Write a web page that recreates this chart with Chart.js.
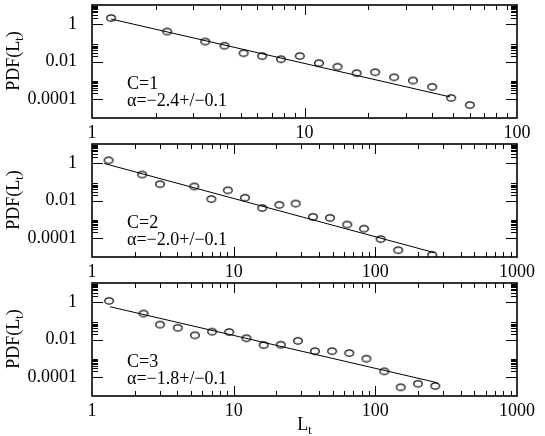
<!DOCTYPE html>
<html>
<head>
<meta charset="utf-8">
<script src="https://cdn.jsdelivr.net/npm/chart.js@4.4.0/dist/chart.umd.min.js"></script>
<style>
  body { margin: 0; background: #fff; }
  #wrap { position: relative; width: 545px; height: 436px; }
  #wrap canvas { position: absolute; left: 0; }
</style>
</head>
<body>
<div id="wrap">
  <canvas id="c1" width="545" height="139" style="top:0px"></canvas>
  <canvas id="c2" width="545" height="139" style="top:139px"></canvas>
  <canvas id="c3" width="545" height="158" style="top:278px"></canvas>
</div>
<script>
// panel labels
var panelNames = ['C=1', 'C=2', 'C=3'];
var alphaLabels = ['\u03b1=\u22122.4+/\u22120.1', '\u03b1=\u22122.0+/\u22120.1', '\u03b1=\u22121.8+/\u22120.1'];

// axis ticks
var xTicks1 = [1, 10, 100];
var xTicks23 = [1, 10, 100, 1000];
var yTicks = [1, 0.01, 0.0001];

// C=1
var lt1  = [1.23, 2.26, 3.41, 4.2, 5.17, 6.32, 7.75, 9.5, 11.7, 14.3, 17.6, 21.5, 26.4, 32.4, 39.9, 49, 60];
var pdf1 = [2.03, 0.39, 0.115, 0.069, 0.0278, 0.0195, 0.0132, 0.0195, 0.0082, 0.0053, 0.0024, 0.0027, 0.00145, 0.00098, 0.00045, 0.000117, 0.000049];
var fitX1 = [1.23, 48.4];
var fitY1 = [1.8, 0.000132];

// C=2
var lt2  = [1.31, 2.26, 3.02, 5.27, 6.96, 9.1, 12, 15.9, 21, 27.4, 36.3, 47.9, 63.3, 83.2, 109, 145, 252];
var pdf2 = [1.37, 0.24, 0.074, 0.056, 0.012, 0.035, 0.014, 0.004, 0.0059, 0.0069, 0.00136, 0.0012, 0.00053, 0.00032, 0.000089, 0.000023, 0.000013];
var fitX2 = [1.22, 261];
var fitY2 = [0.92, 0.000017];

// C=3
var lt3  = [1.32, 2.31, 3.02, 4.03, 5.33, 7.04, 9.3, 12.3, 16.3, 21.5, 28.4, 37.5, 49.5, 65.5, 86.5, 115.6, 151, 200, 265];
var pdf3 = [1.13, 0.24, 0.062, 0.042, 0.0168, 0.026, 0.025, 0.0117, 0.0051, 0.0053, 0.0085, 0.0024, 0.0024, 0.0019, 0.00096, 0.000204, 0.000029, 0.000045, 0.000034];
var fitX3 = [1.34, 273];
var fitY3 = [0.55, 0.000051];

var FONT = 'Liberation Serif';

// open elliptical marker like the original
function ringMarker() {
  var c = document.createElement('canvas');
  c.width = 12; c.height = 10;
  var g = c.getContext('2d');
  g.strokeStyle = '#000';
  g.lineWidth = 1.25;
  g.beginPath();
  g.ellipse(6, 5, 4.3, 3.2, 0, 0, 2 * Math.PI);
  g.stroke();
  return c;
}
var marker = ringMarker();

function pts(xs, ys) {
  return xs.map(function (v, i) { return { x: v, y: ys[i] }; });
}

// text with a subscript, centred on (cx, cy)
function subText(ctx, pre, sub, post, cx, cy) {
  ctx.font = '18px "' + FONT + '"';
  var w1 = ctx.measureText(pre).width;
  var w3 = ctx.measureText(post).width;
  ctx.font = '12px "' + FONT + '"';
  var w2 = ctx.measureText(sub).width;
  var x = cx - (w1 + w2 + w3) / 2;
  ctx.textBaseline = 'alphabetic';
  ctx.textAlign = 'left';
  ctx.font = '18px "' + FONT + '"';
  ctx.fillText(pre, x, cy + 6);
  ctx.font = '12px "' + FONT + '"';
  ctx.fillText(sub, x + w1, cy + 10);
  ctx.font = '18px "' + FONT + '"';
  ctx.fillText(post, x + w1 + w2, cy + 6);
}

var framePlugin = {
  id: 'frame',
  afterDraw: function (chart) {
    var ctx = chart.ctx, a = chart.chartArea;
    var xs = chart.scales.x, ys = chart.scales.y;
    var o = chart.options.plugins.frame;
    ctx.save();
    ctx.strokeStyle = '#000';
    ctx.lineWidth = 1;
    ctx.beginPath();
    // x ticks, bottom and top, pointing inward
    for (var n = 0; n < 4; n++) {
      for (var k = 1; k <= 9; k++) {
        var v = k * Math.pow(10, n);
        if (v <= xs.min || v >= xs.max) continue;
        var px = Math.round(xs.getPixelForValue(v)) + 0.5;
        var len = k === 1 ? 10 : 5;
        ctx.moveTo(px, a.bottom); ctx.lineTo(px, a.bottom - len);
        ctx.moveTo(px, a.top); ctx.lineTo(px, a.top + len);
      }
    }
    // y ticks, left and right
    [1, 0.01, 0.0001].forEach(function (m) {
      for (var k = 1; k <= 9; k++) {
        var v = k * m;
        if (v <= ys.min || v >= ys.max) continue;
        var py = Math.round(ys.getPixelForValue(v)) + 0.5;
        var len = k === 1 ? 11 : 6;
        ctx.moveTo(a.left, py); ctx.lineTo(a.left + len, py);
        ctx.moveTo(a.right, py); ctx.lineTo(a.right - len, py);
      }
    });
    ctx.stroke();
    ctx.lineWidth = 1.6;
    ctx.strokeRect(a.left, a.top, a.right - a.left, a.bottom - a.top);

    ctx.fillStyle = '#000';
    // annotation
    ctx.font = '18px "' + FONT + '"';
    ctx.textAlign = 'left';
    ctx.textBaseline = 'middle';
    ctx.fillText(o.name, 127, a.top + 79);
    ctx.fillText(o.alpha, 127, a.top + 96);

    // y title, rotated
    ctx.save();
    ctx.translate(13, a.top + 56);
    ctx.rotate(-Math.PI / 2);
    subText(ctx, 'PDF(L', 't', ')', 0, 0);
    ctx.restore();

    if (o.xTitle) {
      subText(ctx, 'L', 't', '', (a.left + a.right) / 2, a.bottom + 28);
    }
    ctx.restore();
  }
};

function makePanel(id, xs, ys, fx, fy, xMax, xTickVals, idx, xTitle) {
  var cv = document.getElementById(id);
  var H = cv.height;
  return new Chart(cv.getContext('2d'), {
    type: 'scatter',
    data: {
      datasets: [{
        data: pts(xs, ys),
        pointStyle: marker,
        pointRadius: 4,
        showLine: false
      }, {
        data: pts(fx, fy),
        showLine: true,
        borderColor: '#000',
        borderWidth: 1,
        pointRadius: 0,
        fill: false
      }]
    },
    options: {
      responsive: false,
      animation: false,
      layout: { padding: { top: 2, right: 28, left: 0, bottom: 0 } },
      plugins: {
        legend: { display: false },
        tooltip: { enabled: false },
        frame: { name: panelNames[idx], alpha: alphaLabels[idx], xTitle: xTitle }
      },
      scales: {
        x: {
          type: 'logarithmic',
          min: 1,
          max: xMax,
          afterBuildTicks: function (s) { s.ticks = xTickVals.map(function (v) { return { value: v }; }); },
          afterFit: function (s) { s.height = H - 118; s.paddingLeft = 0; s.paddingRight = 0; },
          grid: { display: false },
          border: { display: false },
          ticks: {
            autoSkip: false, maxRotation: 0, padding: -4, color: '#000',
            font: { family: FONT, size: 18 },
            callback: function (v) { return String(v); }
          }
        },
        y: {
          type: 'logarithmic',
          min: 0.00001,
          max: 10,
          afterBuildTicks: function (s) { s.ticks = yTicks.map(function (v) { return { value: v }; }); },
          afterFit: function (s) { s.width = 92; s.paddingTop = 0; s.paddingBottom = 0; },
          grid: { display: false },
          border: { display: false },
          ticks: {
            autoSkip: false, padding: 7, color: '#000',
            font: { family: FONT, size: 18 },
            callback: function (v) { return String(v); }
          }
        }
      }
    },
    plugins: [framePlugin]
  });
}

makePanel('c1', lt1, pdf1, fitX1, fitY1, 100, xTicks1, 0, false);
makePanel('c2', lt2, pdf2, fitX2, fitY2, 1000, xTicks23, 1, false);
makePanel('c3', lt3, pdf3, fitX3, fitY3, 1000, xTicks23, 2, true);
</script>
</body>
</html>
